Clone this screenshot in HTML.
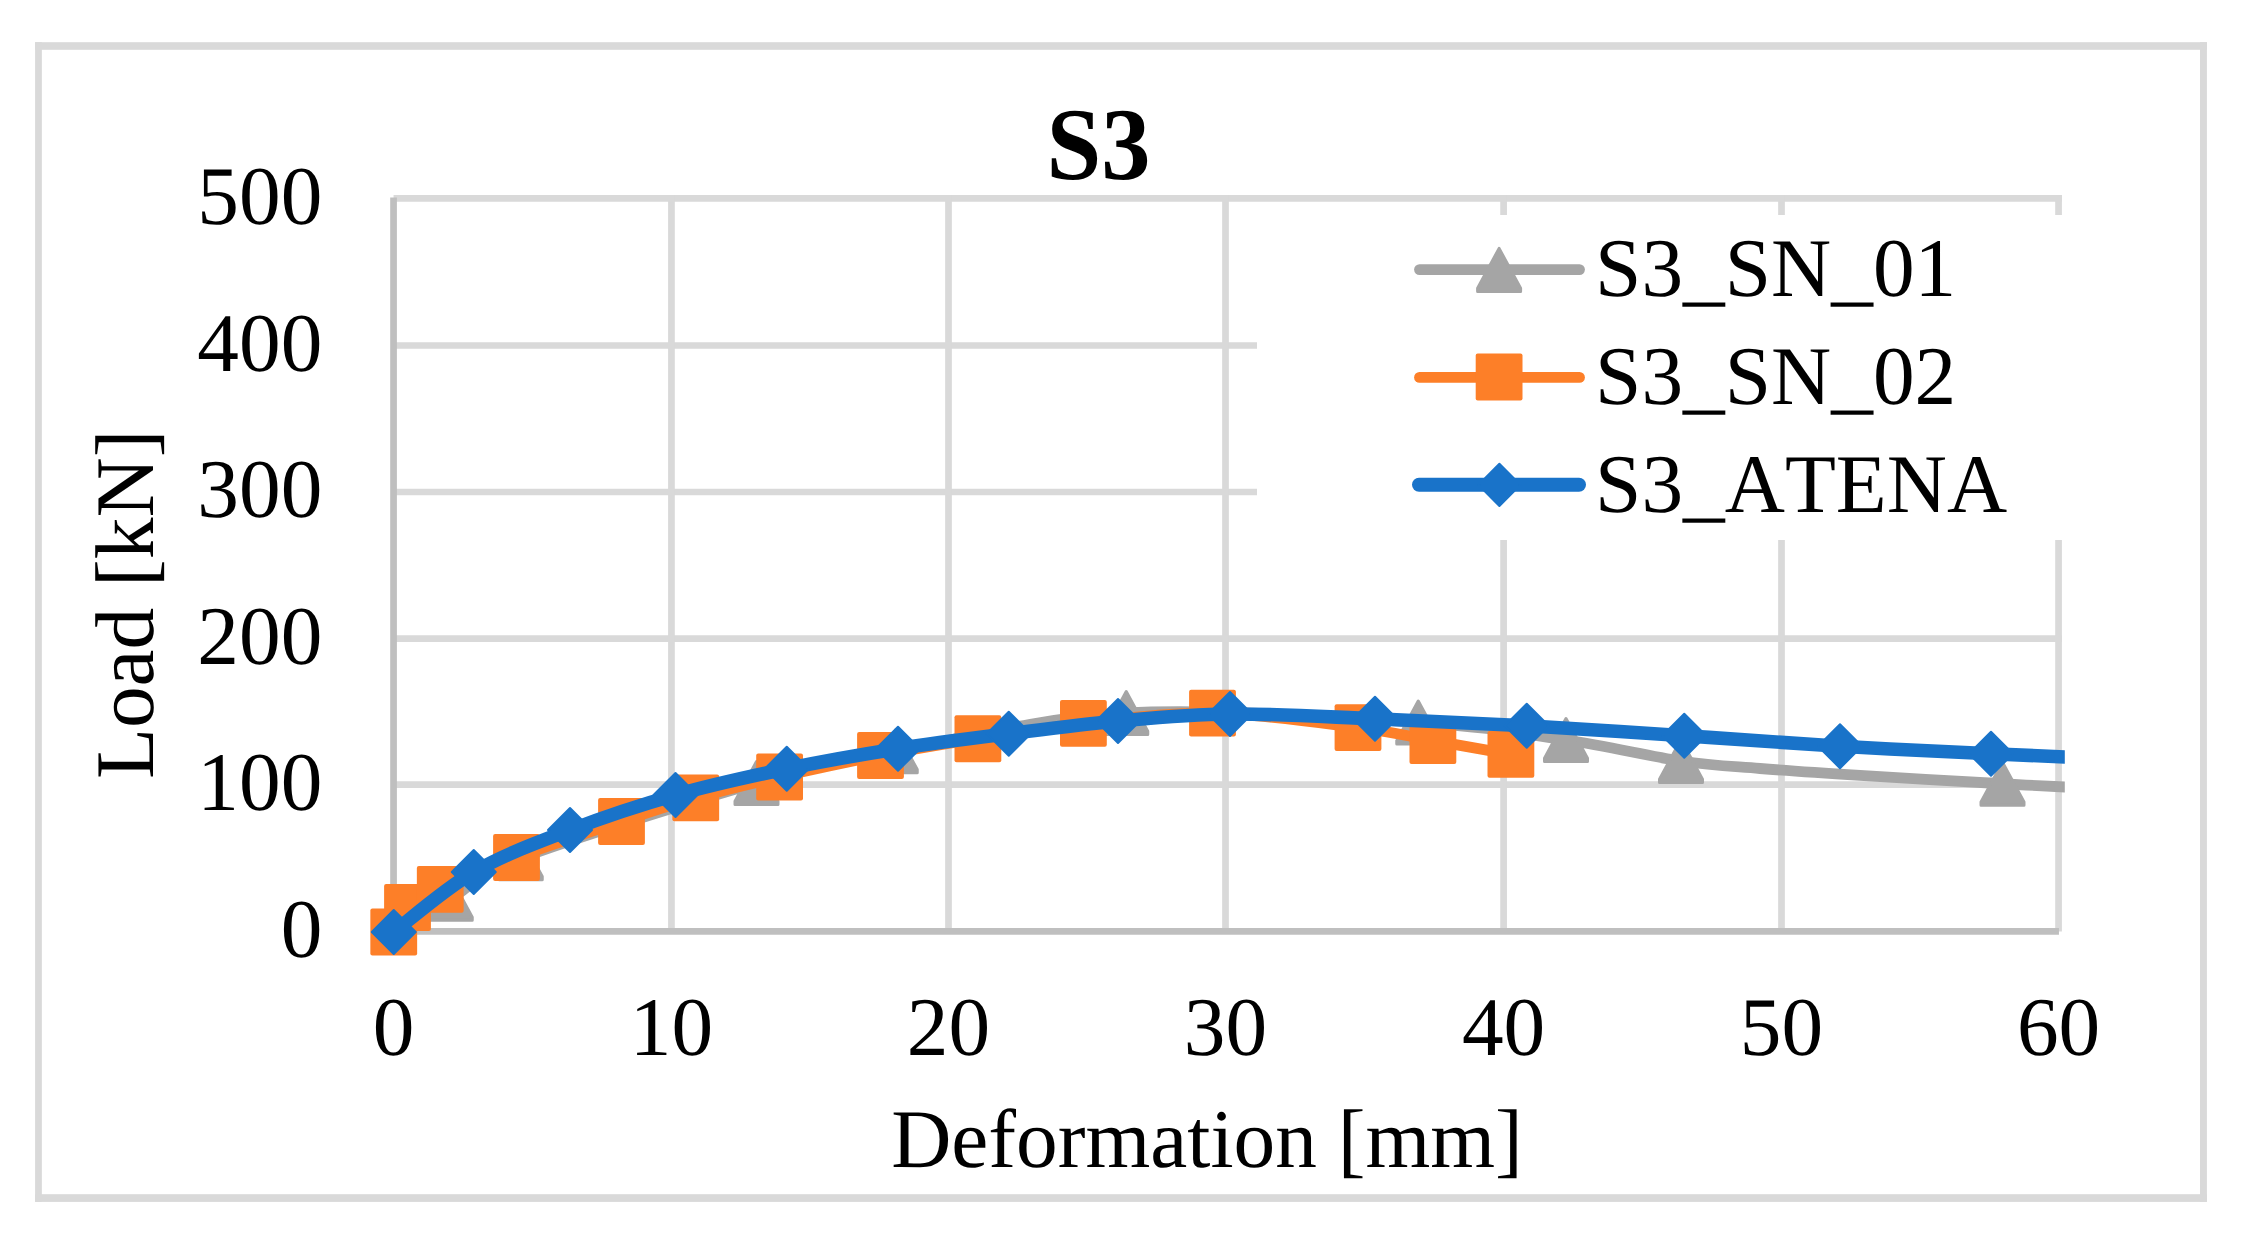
<!DOCTYPE html>
<html lang="en"><head><meta charset="utf-8"><title>S3 load-deformation chart</title>
<style>
html,body{margin:0;padding:0;background:#fff;}
body{width:2252px;height:1248px;overflow:hidden;}
svg{display:block;}
text{font-family:"Liberation Serif", "Times New Roman", Times, serif;fill:#000;font-kerning:none;font-feature-settings:"kern" 0,"liga" 0;text-rendering:geometricPrecision;}
.lbl{font-size:83.33px;}
.ttl{font-size:100px;font-weight:bold;}
</style></head><body>
<svg width="2252" height="1248" viewBox="0 0 2252 1248">
<rect x="0" y="0" width="2252" height="1248" fill="#ffffff"/>
<g fill="#d9d9d9">
<rect x="35.10" y="42.20" width="2171.80" height="7.60"/>
<rect x="35.10" y="1194.20" width="2171.80" height="7.70"/>
<rect x="35.10" y="42.20" width="6.75" height="1159.70"/>
<rect x="2200.00" y="42.20" width="6.90" height="1159.70"/>
</g>
<g stroke="#d9d9d9" stroke-width="6.7" fill="none">
<line x1="393.55" y1="784.70" x2="2061.90" y2="784.70"/>
<line x1="393.55" y1="638.60" x2="2061.90" y2="638.60"/>
<line x1="393.55" y1="492.00" x2="2061.90" y2="492.00"/>
<line x1="393.55" y1="345.50" x2="2061.90" y2="345.50"/>
<line x1="393.55" y1="198.40" x2="2061.90" y2="198.40"/>
<line x1="671.45" y1="195.05" x2="671.45" y2="931.45"/>
<line x1="948.50" y1="195.05" x2="948.50" y2="931.45"/>
<line x1="1225.50" y1="195.05" x2="1225.50" y2="931.45"/>
<line x1="1503.60" y1="195.05" x2="1503.60" y2="931.45"/>
<line x1="1781.50" y1="195.05" x2="1781.50" y2="931.45"/>
<line x1="2058.55" y1="195.05" x2="2058.55" y2="931.45"/>
</g>
<g stroke="#bfbfbf" stroke-width="6.7" fill="none">
<line x1="393.55" y1="197.40" x2="393.55" y2="934.80"/>
<line x1="390.20" y1="931.45" x2="2058.95" y2="931.45"/>
</g>
<rect x="1257.00" y="215.00" width="811.00" height="325.00" fill="#ffffff"/>
<defs><clipPath id="plotclip"><rect x="300" y="100" width="1764.80" height="1000"/></clipPath></defs>
<g clip-path="url(#plotclip)" fill="none" stroke-linecap="round" stroke-linejoin="round">
<path d="M393.50 931.50 C403.04 926.05 429.54 911.02 450.75 898.80 C471.96 886.58 469.79 877.50 520.75 858.20 C571.71 838.90 694.00 800.83 756.50 783.00 C819.00 765.17 834.12 762.92 895.75 751.25 C957.38 739.58 1039.17 717.79 1126.25 713.00 C1213.33 708.21 1344.96 718.00 1418.25 722.50 C1491.54 727.00 1522.21 733.58 1566.00 740.00 C1609.79 746.42 1648.67 756.25 1681.00 761.00 C1713.33 765.75 1730.17 766.10 1760.00 768.50 C1789.83 770.90 1819.58 772.86 1860.00 775.40 C1900.42 777.94 1968.33 781.82 2002.50 783.75 C2036.67 785.68 2015.42 784.46 2065.00 787.00 C2114.58 789.54 2260.83 797.00 2300.00 799.00" stroke="#a5a5a5" stroke-width="10.8"/>
<path d="M450.75 877.30 L472.25 917.10 L472.25 920.30 L429.25 920.30 L429.25 917.10 Z" fill="#a5a5a5" stroke="#a5a5a5" stroke-width="3" stroke-linejoin="round"/>
<path d="M520.75 836.70 L542.25 876.50 L542.25 879.70 L499.25 879.70 L499.25 876.50 Z" fill="#a5a5a5" stroke="#a5a5a5" stroke-width="3" stroke-linejoin="round"/>
<path d="M756.50 761.50 L778.00 801.30 L778.00 804.50 L735.00 804.50 L735.00 801.30 Z" fill="#a5a5a5" stroke="#a5a5a5" stroke-width="3" stroke-linejoin="round"/>
<path d="M895.75 729.75 L917.25 769.55 L917.25 772.75 L874.25 772.75 L874.25 769.55 Z" fill="#a5a5a5" stroke="#a5a5a5" stroke-width="3" stroke-linejoin="round"/>
<path d="M1126.25 691.50 L1147.75 731.30 L1147.75 734.50 L1104.75 734.50 L1104.75 731.30 Z" fill="#a5a5a5" stroke="#a5a5a5" stroke-width="3" stroke-linejoin="round"/>
<path d="M1418.25 701.00 L1439.75 740.80 L1439.75 744.00 L1396.75 744.00 L1396.75 740.80 Z" fill="#a5a5a5" stroke="#a5a5a5" stroke-width="3" stroke-linejoin="round"/>
<path d="M1566.00 718.50 L1587.50 758.30 L1587.50 761.50 L1544.50 761.50 L1544.50 758.30 Z" fill="#a5a5a5" stroke="#a5a5a5" stroke-width="3" stroke-linejoin="round"/>
<path d="M1681.00 739.50 L1702.50 779.30 L1702.50 782.50 L1659.50 782.50 L1659.50 779.30 Z" fill="#a5a5a5" stroke="#a5a5a5" stroke-width="3" stroke-linejoin="round"/>
<path d="M2002.50 762.25 L2024.00 802.05 L2024.00 805.25 L1981.00 805.25 L1981.00 802.05 Z" fill="#a5a5a5" stroke="#a5a5a5" stroke-width="3" stroke-linejoin="round"/>
<path d="M393.75 932.00 C396.04 927.92 399.75 914.60 407.50 907.50 C415.25 900.40 422.08 897.73 440.25 889.40 C458.42 881.07 486.29 868.82 516.50 857.50 C546.71 846.18 591.62 831.43 621.50 821.50 C651.38 811.57 669.40 805.32 695.75 797.90 C722.10 790.48 748.81 784.07 779.60 777.00 C810.39 769.93 847.45 761.88 880.50 755.50 C913.55 749.12 944.08 744.10 977.90 738.75 C1011.72 733.40 1044.30 727.67 1083.40 723.40 C1122.50 719.12 1166.73 712.40 1212.50 713.10 C1258.27 713.80 1321.27 723.02 1358.00 727.60 C1394.73 732.18 1407.42 736.13 1432.90 740.60 C1458.38 745.07 1497.90 752.10 1510.90 754.40" stroke="#fd7f28" stroke-width="10.8"/>
<rect x="370.35" y="908.60" width="46.80" height="46.80" rx="2" ry="2" fill="#fd7f28"/>
<rect x="384.10" y="884.10" width="46.80" height="46.80" rx="2" ry="2" fill="#fd7f28"/>
<rect x="416.85" y="866.00" width="46.80" height="46.80" rx="2" ry="2" fill="#fd7f28"/>
<rect x="493.10" y="834.10" width="46.80" height="46.80" rx="2" ry="2" fill="#fd7f28"/>
<rect x="598.10" y="798.10" width="46.80" height="46.80" rx="2" ry="2" fill="#fd7f28"/>
<rect x="672.35" y="774.50" width="46.80" height="46.80" rx="2" ry="2" fill="#fd7f28"/>
<rect x="756.20" y="753.60" width="46.80" height="46.80" rx="2" ry="2" fill="#fd7f28"/>
<rect x="857.10" y="732.10" width="46.80" height="46.80" rx="2" ry="2" fill="#fd7f28"/>
<rect x="954.50" y="715.35" width="46.80" height="46.80" rx="2" ry="2" fill="#fd7f28"/>
<rect x="1060.00" y="700.00" width="46.80" height="46.80" rx="2" ry="2" fill="#fd7f28"/>
<rect x="1189.10" y="689.70" width="46.80" height="46.80" rx="2" ry="2" fill="#fd7f28"/>
<rect x="1334.60" y="704.20" width="46.80" height="46.80" rx="2" ry="2" fill="#fd7f28"/>
<rect x="1409.50" y="717.20" width="46.80" height="46.80" rx="2" ry="2" fill="#fd7f28"/>
<rect x="1487.50" y="731.00" width="46.80" height="46.80" rx="2" ry="2" fill="#fd7f28"/>
<path d="M393.75 932.00 C407.08 922.00 444.38 889.00 473.75 872.00 C503.12 855.00 536.38 842.83 570.00 830.00 C603.62 817.17 639.38 805.21 675.50 795.00 C711.62 784.79 749.67 776.46 786.75 768.75 C823.83 761.04 861.00 754.58 898.00 748.75 C935.00 742.92 972.08 738.38 1008.75 733.75 C1045.42 729.12 1081.12 724.29 1118.00 721.00 C1154.88 717.71 1187.17 714.38 1230.00 714.00 C1272.83 713.62 1325.54 716.79 1375.00 718.75 C1424.46 720.71 1475.21 722.92 1526.75 725.75 C1578.29 728.58 1632.04 732.33 1684.25 735.75 C1736.46 739.17 1788.88 743.25 1840.00 746.25 C1891.12 749.25 1953.50 751.96 1991.00 753.75 C2028.50 755.54 2040.17 755.88 2065.00 757.00 C2089.83 758.12 2127.50 759.92 2140.00 760.50" stroke="#1973c9" stroke-width="13.6"/>
<path d="M393.75 910.00 L415.75 932.00 L393.75 954.00 L371.75 932.00 Z" fill="#1973c9" stroke="#1973c9" stroke-width="2" stroke-linejoin="round"/>
<path d="M473.75 850.00 L495.75 872.00 L473.75 894.00 L451.75 872.00 Z" fill="#1973c9" stroke="#1973c9" stroke-width="2" stroke-linejoin="round"/>
<path d="M570.00 808.00 L592.00 830.00 L570.00 852.00 L548.00 830.00 Z" fill="#1973c9" stroke="#1973c9" stroke-width="2" stroke-linejoin="round"/>
<path d="M675.50 773.00 L697.50 795.00 L675.50 817.00 L653.50 795.00 Z" fill="#1973c9" stroke="#1973c9" stroke-width="2" stroke-linejoin="round"/>
<path d="M786.75 746.75 L808.75 768.75 L786.75 790.75 L764.75 768.75 Z" fill="#1973c9" stroke="#1973c9" stroke-width="2" stroke-linejoin="round"/>
<path d="M898.00 726.75 L920.00 748.75 L898.00 770.75 L876.00 748.75 Z" fill="#1973c9" stroke="#1973c9" stroke-width="2" stroke-linejoin="round"/>
<path d="M1008.75 711.75 L1030.75 733.75 L1008.75 755.75 L986.75 733.75 Z" fill="#1973c9" stroke="#1973c9" stroke-width="2" stroke-linejoin="round"/>
<path d="M1118.00 699.00 L1140.00 721.00 L1118.00 743.00 L1096.00 721.00 Z" fill="#1973c9" stroke="#1973c9" stroke-width="2" stroke-linejoin="round"/>
<path d="M1230.00 692.00 L1252.00 714.00 L1230.00 736.00 L1208.00 714.00 Z" fill="#1973c9" stroke="#1973c9" stroke-width="2" stroke-linejoin="round"/>
<path d="M1375.00 696.75 L1397.00 718.75 L1375.00 740.75 L1353.00 718.75 Z" fill="#1973c9" stroke="#1973c9" stroke-width="2" stroke-linejoin="round"/>
<path d="M1526.75 703.75 L1548.75 725.75 L1526.75 747.75 L1504.75 725.75 Z" fill="#1973c9" stroke="#1973c9" stroke-width="2" stroke-linejoin="round"/>
<path d="M1684.25 713.75 L1706.25 735.75 L1684.25 757.75 L1662.25 735.75 Z" fill="#1973c9" stroke="#1973c9" stroke-width="2" stroke-linejoin="round"/>
<path d="M1840.00 724.25 L1862.00 746.25 L1840.00 768.25 L1818.00 746.25 Z" fill="#1973c9" stroke="#1973c9" stroke-width="2" stroke-linejoin="round"/>
<path d="M1991.00 731.75 L2013.00 753.75 L1991.00 775.75 L1969.00 753.75 Z" fill="#1973c9" stroke="#1973c9" stroke-width="2" stroke-linejoin="round"/>
</g>
<g fill="none" stroke-linecap="round">
<line x1="1419.5" y1="269.6" x2="1579.5" y2="269.6" stroke="#a5a5a5" stroke-width="10.8"/>
<path d="M1499.10 248.40 L1520.60 288.20 L1520.60 291.40 L1477.60 291.40 L1477.60 288.20 Z" fill="#a5a5a5" stroke="#a5a5a5" stroke-width="3" stroke-linejoin="round"/>
<line x1="1419.5" y1="377.4" x2="1579.5" y2="377.4" stroke="#fd7f28" stroke-width="10.8"/>
<rect x="1475.70" y="353.60" width="46.80" height="46.80" rx="2" ry="2" fill="#fd7f28"/>
<line x1="1419" y1="484.8" x2="1579" y2="484.8" stroke="#1973c9" stroke-width="14"/>
<path d="M1499.40 463.80 L1520.50 484.90 L1499.40 506.00 L1478.30 484.90 Z" fill="#1973c9" stroke="#1973c9" stroke-width="2" stroke-linejoin="round"/>
</g>
<g class="lbl">
<text x="1595.1" y="296.1">S3_SN_01</text>
<text x="1595.1" y="404.1">S3_SN_02</text>
<text x="1595.1" y="511.9">S3_ATENA</text>
</g>
<text class="ttl" transform="translate(1098.4 178.7) scale(0.985 1.03)" text-anchor="middle">S3</text>
<g class="lbl" text-anchor="end">
<text x="322.3" y="956.75">0</text>
<text x="322.3" y="810.00">100</text>
<text x="322.3" y="663.90">200</text>
<text x="322.3" y="517.30">300</text>
<text x="322.3" y="370.80">400</text>
<text x="322.3" y="223.70">500</text>
</g>
<g class="lbl" text-anchor="middle">
<text x="393.55" y="1054.8">0</text>
<text x="671.45" y="1054.8">10</text>
<text x="948.50" y="1054.8">20</text>
<text x="1225.50" y="1054.8">30</text>
<text x="1503.60" y="1054.8">40</text>
<text x="1781.50" y="1054.8">50</text>
<text x="2058.55" y="1054.8">60</text>
</g>
<text class="lbl" x="1207.0" y="1167.0" text-anchor="middle">Deformation [mm]</text>
<text class="lbl" transform="translate(153.2 604.3) rotate(-90)" text-anchor="middle">Load [kN]</text>
</svg>
</body></html>
